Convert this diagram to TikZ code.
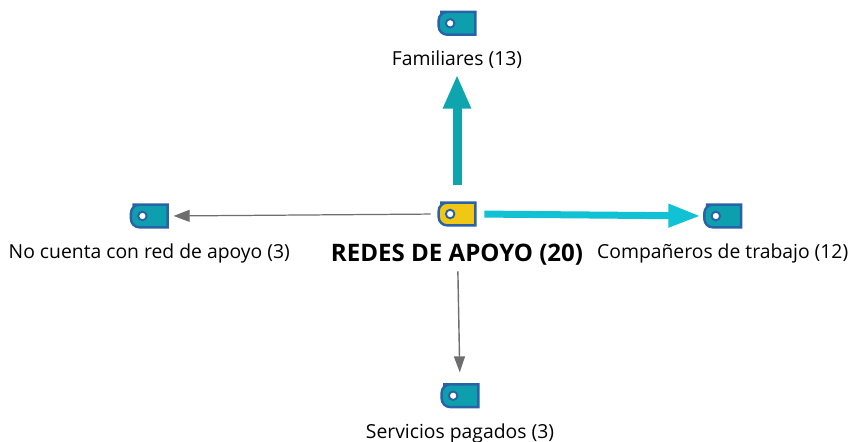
\documentclass[tikz,border=0pt]{standalone}
\usepackage{fontspec}
\setmainfont{Open Sans}
\usepackage{tikz}
\usetikzlibrary{positioning,arrows.meta}

\definecolor{tagteal}{HTML}{0E9FAE}
\definecolor{tagyellow}{HTML}{F0C814}
\definecolor{tagblue}{HTML}{2A62A8}
\definecolor{linkteal}{HTML}{0EA5AE}
\definecolor{linkcyan}{HTML}{10C2D3}
\definecolor{linkgray}{HTML}{6E6E6E}

\tikzset{
  tagbox/.style={minimum width=0.72cm, minimum height=0.44cm, inner sep=0pt},
  taglabel/.style={font=\fontsize{11}{13}\selectfont, inner sep=0pt, text height=8pt, text depth=2.4pt},
}

\newcommand{\tagicon}[2]{
  \draw[tagblue, line width=1.4pt, fill=#2] (#1.north east) -- (#1.south east) -- ([xshift=0.2cm]#1.south west) [rounded corners=0.17cm] -- (#1.south west) -- (#1.north west) -- ([xshift=0.2cm]#1.north west) [sharp corners] -- cycle;
  \draw[tagblue, line width=1.1pt, fill=white] ([xshift=0.23cm]#1.west) circle (0.085cm);
}

\begin{document}
\begin{tikzpicture}
  \useasboundingbox (0,0) rectangle (16.98,8.82);

  \node (apoyo) [tagbox] at (9.14,4.54) {};
  \node (familiares) [tagbox, above=3.36cm of apoyo] {};
  \node (companeros) [tagbox, right=4.58cm of apoyo, yshift=-0.04cm] {};
  \node (nocuenta) [tagbox, left=5.42cm of apoyo, yshift=-0.04cm] {};
  \node (servicios) [tagbox, below=3.18cm of apoyo, xshift=0.06cm] {};

  \node (apoyolabel) [below=0.36cm of apoyo, font=\bfseries\fontsize{13.7}{16}\selectfont, inner sep=0pt] {REDES DE APOYO (20)};
  \node (familiareslabel) [below=0.32cm of familiares, taglabel] {Familiares (13)};
  \node (companeroslabel) [below=0.34cm of companeros, taglabel] {Compañeros de trabajo (12)};
  \node (nocuentalabel) [below=0.34cm of nocuenta, taglabel] {No cuenta con red de apoyo (3)};
  \node (servicioslabel) [below=0.34cm of servicios, taglabel] {Servicios pagados (3)};

  \tagicon{apoyo}{tagyellow}
  \tagicon{familiares}{tagteal}
  \tagicon{companeros}{tagteal}
  \tagicon{nocuenta}{tagteal}
  \tagicon{servicios}{tagteal}

  \draw[-{Triangle[length=0.68cm,width=0.52cm]}, linkteal, line width=0.18cm, shorten <=0.36cm, shorten >=0.10cm] (apoyo.north) -- (familiareslabel.south);
  \draw[-{Triangle[length=0.64cm,width=0.44cm]}, linkcyan, line width=0.14cm, shorten <=0.18cm, shorten >=0.08cm] (apoyo.east) -- (companeros.west);
  \draw[-{Triangle[length=0.32cm,width=0.24cm]}, linkgray, line width=0.7pt, shorten <=0.16cm, shorten >=0.12cm] (apoyo.west) -- (nocuenta.east);
  \draw[-{Triangle[length=0.32cm,width=0.22cm]}, linkgray, line width=0.8pt, shorten <=0.92cm, shorten >=0.24cm] (apoyo.south) -- (servicios.north);
\end{tikzpicture}
\end{document}
